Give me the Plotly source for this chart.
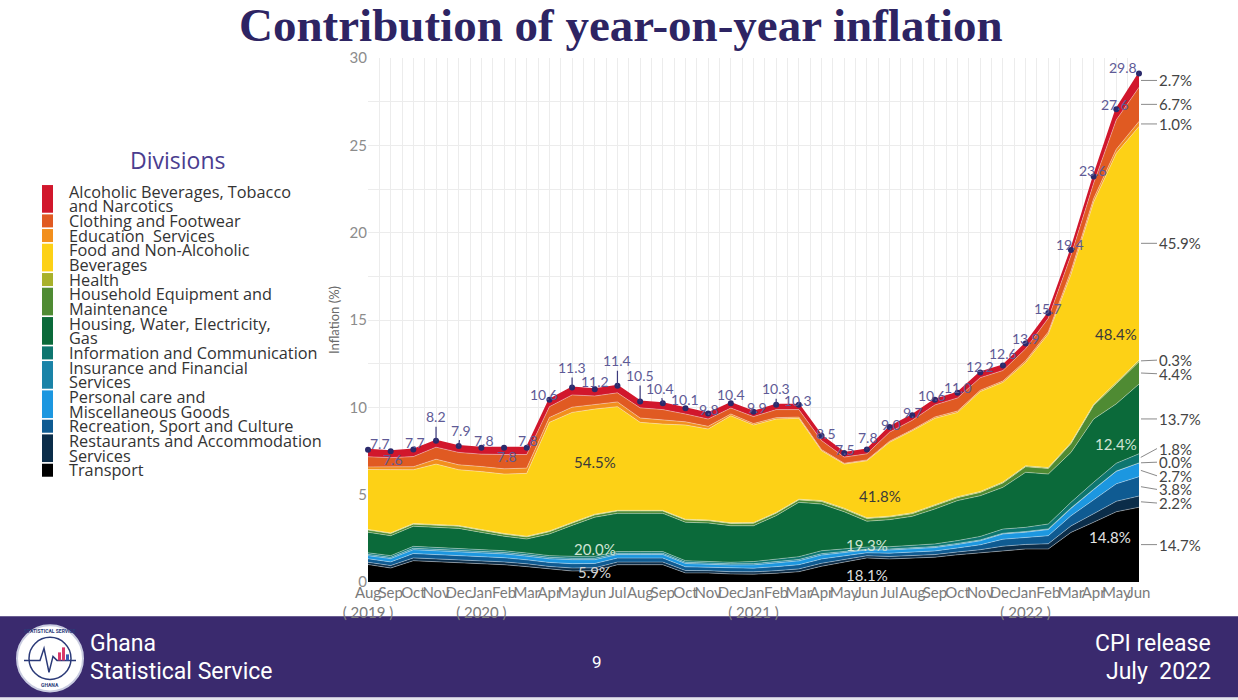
import plotly.graph_objects as go

# ---------------- data ----------------
tick_text = ["Aug<br>( 2019 )", "Sep", "Oct", "Nov", "Dec", "Jan<br>( 2020 )", "Feb", "Mar", "Apr", "May", "Jun", "Jul",
             "Aug", "Sep", "Oct", "Nov", "Dec", "Jan<br>( 2021 )", "Feb", "Mar", "Apr", "May", "Jun", "Jul",
             "Aug", "Sep", "Oct", "Nov", "Dec", "Jan<br>( 2022 )", "Feb", "Mar", "Apr", "May", "Jun"]

headline = [7.7, 7.6, 7.7, 8.2, 7.9, 7.8, 7.8, 7.8, 10.6, 11.3, 11.2, 11.4, 10.5, 10.4, 10.1, 9.8, 10.4,
            9.9, 10.3, 10.3, 8.5, 7.5, 7.8, 9.0, 9.7, 10.6, 11.0, 12.2, 12.6, 13.9, 15.7, 19.4, 23.6, 27.6, 29.8]

transport = [1.00, 0.80, 1.22, 1.16, 1.09, 1.03, 0.99, 0.88, 0.74, 0.63, 0.65, 0.99, 0.99, 0.99, 0.52, 0.52, 0.46,
             0.45, 0.50, 0.59, 0.90, 1.13, 1.38, 1.32, 1.36, 1.42, 1.56, 1.66, 1.79, 1.89, 1.89, 2.84, 3.42, 4.02, 4.28]
restaurants = [0.13, 0.14, 0.16, 0.16, 0.17, 0.17, 0.16, 0.16, 0.15, 0.17, 0.16, 0.15, 0.15, 0.15, 0.14, 0.13, 0.13,
               0.13, 0.15, 0.16, 0.17, 0.15, 0.12, 0.14, 0.14, 0.15, 0.16, 0.19, 0.26, 0.26, 0.30, 0.37, 0.49, 0.60, 0.64]
recreation = [0.20, 0.21, 0.25, 0.25, 0.25, 0.26, 0.24, 0.23, 0.23, 0.25, 0.25, 0.23, 0.23, 0.23, 0.21, 0.19, 0.20,
              0.21, 0.23, 0.24, 0.25, 0.21, 0.17, 0.19, 0.20, 0.21, 0.23, 0.28, 0.40, 0.40, 0.46, 0.58, 0.80, 1.00, 1.11]
personal_care = [0.18, 0.19, 0.22, 0.22, 0.23, 0.23, 0.22, 0.21, 0.21, 0.23, 0.22, 0.20, 0.20, 0.20, 0.19, 0.17, 0.18,
                 0.19, 0.21, 0.22, 0.22, 0.19, 0.16, 0.18, 0.18, 0.19, 0.20, 0.23, 0.30, 0.30, 0.35, 0.42, 0.58, 0.72, 0.79]
insurance = [0.07, 0.07, 0.08, 0.08, 0.08, 0.09, 0.08, 0.08, 0.08, 0.08, 0.08, 0.07, 0.07, 0.07, 0.07, 0.06, 0.07,
             0.07, 0.08, 0.08, 0.08, 0.07, 0.05, 0.06, 0.06, 0.06, 0.06, 0.05, 0.04, 0.04, 0.04, 0.03, 0.02, 0.01, 0.00]
information = [0.09, 0.10, 0.11, 0.11, 0.11, 0.11, 0.10, 0.10, 0.10, 0.11, 0.11, 0.10, 0.10, 0.10, 0.09, 0.09, 0.09,
               0.12, 0.15, 0.16, 0.17, 0.14, 0.12, 0.13, 0.14, 0.15, 0.16, 0.20, 0.24, 0.24, 0.28, 0.32, 0.40, 0.45, 0.52]
housing = [1.18, 1.14, 1.15, 1.13, 1.14, 0.95, 0.83, 0.80, 1.24, 1.77, 2.24, 2.19, 2.19, 2.19, 2.20, 2.22, 2.09,
           2.05, 2.48, 3.11, 2.67, 2.13, 1.48, 1.55, 1.68, 2.00, 2.29, 2.33, 2.39, 3.15, 2.86, 2.86, 3.62, 3.40, 3.99]
household = [0.12, 0.12, 0.12, 0.12, 0.12, 0.12, 0.12, 0.12, 0.13, 0.13, 0.13, 0.13, 0.13, 0.13, 0.13, 0.13, 0.13,
             0.14, 0.14, 0.14, 0.15, 0.15, 0.15, 0.15, 0.15, 0.17, 0.17, 0.19, 0.25, 0.32, 0.32, 0.50, 0.78, 1.15, 1.28]
health = [0.04, 0.04, 0.04, 0.04, 0.04, 0.04, 0.04, 0.04, 0.04, 0.04, 0.04, 0.04, 0.04, 0.04, 0.04, 0.04, 0.04,
          0.04, 0.04, 0.04, 0.05, 0.05, 0.05, 0.05, 0.05, 0.05, 0.05, 0.05, 0.05, 0.05, 0.05, 0.06, 0.07, 0.08, 0.09]
food = [3.43, 3.62, 3.08, 3.48, 3.20, 3.32, 3.40, 3.60, 6.22, 6.30, 6.02, 5.94, 5.04, 4.94, 5.40, 5.21, 6.13,
        5.59, 5.35, 4.63, 2.86, 2.53, 3.26, 4.23, 4.70, 4.97, 4.83, 5.72, 5.71, 5.92, 7.65, 9.63, 11.57, 13.12, 13.38]
education = [0.15, 0.16, 0.17, 0.28, 0.28, 0.29, 0.30, 0.30, 0.28, 0.30, 0.25, 0.27, 0.25, 0.25, 0.18, 0.15, 0.10,
             0.08, 0.08, 0.07, 0.06, 0.05, 0.05, 0.06, 0.06, 0.08, 0.08, 0.08, 0.08, 0.10, 0.12, 0.20, 0.20, 0.23, 0.29]
clothing = [0.58, 0.53, 0.58, 0.69, 0.71, 0.71, 0.82, 0.78, 0.62, 0.70, 0.50, 0.52, 0.58, 0.58, 0.45, 0.42, 0.34,
            0.40, 0.46, 0.43, 0.52, 0.35, 0.35, 0.52, 0.54, 0.69, 0.75, 0.72, 0.60, 0.68, 0.78, 0.90, 0.88, 1.68, 1.95]
alcoholic = [0.40, 0.37, 0.40, 0.36, 0.36, 0.36, 0.38, 0.38, 0.40, 0.42, 0.38, 0.40, 0.37, 0.37, 0.33, 0.32, 0.28,
             0.28, 0.28, 0.28, 0.27, 0.24, 0.24, 0.29, 0.29, 0.30, 0.30, 0.30, 0.29, 0.30, 0.30, 0.30, 0.38, 0.61, 0.79]

# legend names (line breaks as in the legend), stacking order bottom -> top
division_names = ["Transport", "Restaurants and Accommodation<br>Services", "Recreation, Sport and Culture",
                  "Personal care and<br>Miscellaneous Goods", "Insurance and Financial<br>Services",
                  "Information and Communication", "Housing, Water, Electricity,<br>Gas",
                  "Household Equipment and<br>Maintenance", "Health", "Food and Non-Alcoholic<br>Beverages",
                  "Education  Services", "Clothing and Footwear", "Alcoholic Beverages, Tobacco<br>and Narcotics"]
# June 2022 share of each division (same order)
june_share_text = ["14.7%", "2.2%", "3.8%", "2.7%", "0.0%", "1.8%", "13.7%", "4.4%", "0.3%", "45.9%", "1.0%", "6.7%", "2.7%"]
# shares written inside the areas: (month index, division index, text)
inner_labels = [(10, 9, "54.5%"), (10, 6, "20.0%"), (10, 0, "5.9%"),
                (22, 9, "41.8%"), (22, 6, "19.3%"), (22, 0, "18.1%"),
                (33, 9, "48.4%"), (33, 6, "12.4%"), (33, 0, "14.8%")]

# ---------------- styles ----------------
colors = ["#000000", "#0b2d49", "#0f5b92", "#1c97e0", "#1a83a7", "#0e766f", "#0b6a3a",
          "#4f8b33", "#a8b12b", "#fdd116", "#f28f1d", "#e05a22", "#d1172c"]
series = [transport, restaurants, recreation, personal_care, insurance, information, housing,
          household, health, food, education, clothing, alcoholic]
label_offsets = [(12, -6), (2, 8), (2, -7), (0, -24), (2, -16), (3, -7), (3, 9), (1, -7), (-5, -5), (0, -20),
                 (0, -8), (0, -25), (0, -26), (-3, -15), (0, -9), (1, -4), (0, -9), (3, -4), (0, -16), (-1, -4),
                 (4, -2), (1, -3), (1, -12), (1, -3), (1, -3), (-3, -4), (0, -5), (0, -6), (0, -12), (0, -5),
                 (0, -5), (-1, -5), (-1, -6), (-1, -5), (-16, -6)]
inner_style = {"54.5%": ("#3a3a3a", 0, 0), "20.0%": ("#cfe3d4", 0, -12), "5.9%": ("#d4d4d4", 0, 4),
               "41.8%": ("#3a3a3a", 13, -7), "19.3%": ("#cfe3d4", 0, -11), "18.1%": ("#dddddd", 0, -5),
               "48.4%": ("#3a3a3a", 0, -66), "12.4%": ("#cfe3d4", 0, -10), "14.8%": ("#e4e4e4", -6, 10)}

FONT = "Lato, 'Open Sans', sans-serif"
LEGFONT = "'Open Sans', Lato, sans-serif"
W, H = 1238, 700
PL, PR, PT, PB = 368, 1139, 58.3, 581.7
YMAX = 30
PXU = (PB - PT) / YMAX


def X(px):
    return (px - PL) / (PR - PL)


def Y(py):
    return (PB - py) / (PB - PT)


def paper_text(txt, px, py, size, color, family=FONT, xanchor="center", **kw):
    return dict(x=X(px), y=Y(py), xref="paper", yref="paper", text=txt, showarrow=False,
                xanchor=xanchor, yanchor="middle", font=dict(family=family, size=size, color=color), **kw)


n = len(headline)
xs = list(range(n))
totals = [sum(s[i] for s in series) for i in range(n)]

fig = go.Figure()
for name, vals, col in zip(division_names, series, colors):
    is_top = col == colors[-1]
    fig.add_trace(go.Scatter(
        x=xs, y=vals, stackgroup="one", mode="lines", name=name.replace("<br>", " "),
        fillcolor=col,
        line=dict(width=2 if is_top else 0.8, color=col if is_top else "rgba(255,255,255,0.45)"),
        showlegend=False, hoverinfo="skip"))

fig.add_trace(go.Scatter(x=xs, y=totals, mode="markers", cliponaxis=False,
                         marker=dict(size=6, color="#2b2a6b"), showlegend=False, hoverinfo="skip"))

ann = []
# headline value labels
for i in range(n):
    dx, dy = label_offsets[i]
    ann.append(dict(x=i, y=totals[i], xref="x", yref="y", text=f"{headline[i]:.1f}",
                    showarrow=True, arrowhead=0, arrowwidth=1.2, arrowcolor="#3c3a7c", standoff=0,
                    ax=dx, ay=dy, xanchor="center", yanchor="middle",
                    font=dict(family=FONT, size=14, color="#5e5a96")))


def bounds(i):
    b, lo = [], 0.0
    for s in series:
        b.append((lo, lo + s[i]))
        lo += s[i]
    return b


# inner share labels
for (i, k, txt) in inner_labels:
    lo, hi = bounds(i)[k]
    col, xsft, ysft = inner_style[txt]
    ann.append(dict(x=i, y=(lo + hi) / 2, xref="x", yref="y", text=txt, showarrow=False,
                    xanchor="center", yanchor="middle",
                    xshift=xsft, yshift=ysft, font=dict(family=FONT, size=15, color=col)))

# right-hand June 2022 shares with dodging
last = bounds(n - 1)
mids = [(lo + hi) / 2 for lo, hi in last]
pos = list(mids)
gap = 0.78
for _ in range(200):
    moved = False
    for k in range(len(pos) - 1):
        if pos[k + 1] - pos[k] < gap - 1e-6:
            d = (gap - (pos[k + 1] - pos[k])) / 2
            pos[k] -= d
            pos[k + 1] += d
            moved = True
    if not moved:
        break
for k, txt in enumerate(june_share_text):
    ann.append(dict(x=n - 1, y=mids[k], xref="x", yref="y", text=txt, showarrow=True, arrowhead=0,
                    arrowwidth=1, arrowcolor="#8a8a8a", standoff=2, ax=18, ay=-(pos[k] - mids[k]) * PXU,
                    xanchor="left", yanchor="middle", font=dict(family=FONT, size=15, color="#444444")))

# y axis title
ann.append(paper_text("Inflation (%)", 334, 320, 13, "#6a6a6a", textangle=-90))

# title
ann.append(paper_text("<b>Contribution of year-on-year inflation</b>", 621, 25, 47, "#2d2463",
                      family="'Liberation Serif', 'DejaVu Serif', serif"))

# manual legend
shapes = []
ann.append(paper_text("Divisions", 177, 160, 23, "#4a3d8f", family=LEGFONT))
LH = 14.65
line0 = 191.7
line_idx = 0
for name, col in list(zip(division_names, colors))[::-1]:
    parts = name.split("<br>")
    top = line0 + line_idx * LH - 6.5
    bot = line0 + (line_idx + len(parts) - 1) * LH + 6.5
    shapes.append(dict(type="rect", xref="paper", yref="paper", x0=X(42), x1=X(53), y0=Y(bot), y1=Y(top),
                       fillcolor=col, line=dict(width=0)))
    for j, p in enumerate(parts):
        ann.append(paper_text(p, 67, line0 + (line_idx + j) * LH, 16.3, "#333333",
                              family=LEGFONT, xanchor="left"))
    line_idx += len(parts)

# footer
shapes.append(dict(type="rect", xref="paper", yref="paper", x0=X(0), x1=X(W), y0=Y(697), y1=Y(616),
                   fillcolor="#3a2a6e", line=dict(width=0), layer="below"))
shapes.append(dict(type="rect", xref="paper", yref="paper", x0=X(0), x1=X(W), y0=Y(700), y1=Y(697),
                   fillcolor="#e3e2ec", line=dict(width=0), layer="below"))
# logo
shapes.append(dict(type="circle", xref="paper", yref="paper", x0=X(17), x1=X(83), y0=Y(691), y1=Y(625),
                   fillcolor="#ffffff", line=dict(color="#c9cce0", width=2)))
shapes.append(dict(type="circle", xref="paper", yref="paper", x0=X(29), x1=X(71), y0=Y(679), y1=Y(637),
                   fillcolor="#ffffff", line=dict(color="#2b3a78", width=1.5)))
ecg = [(24, 660), (40, 660), (44, 648), (49, 672), (53, 656), (57, 660), (76, 660)]
path = "M " + " L ".join(f"{X(a):.5f},{Y(b):.5f}" for a, b in ecg)
shapes.append(dict(type="path", xref="paper", yref="paper", path=path, line=dict(color="#2b3a78", width=1.5)))
for bx, bh, bc in [(58, 8, "#d8386b"), (62, 13, "#d8386b"), (66, 6, "#3b5bb5")]:
    shapes.append(dict(type="rect", xref="paper", yref="paper", x0=X(bx), x1=X(bx + 3), y0=Y(660),
                       y1=Y(660 - bh), fillcolor=bc, line=dict(width=0)))
NARROW = "'Liberation Sans Narrow', 'Roboto', sans-serif"
ann.append(paper_text("<b>STATISTICAL SERVICE</b>", 50, 631, 5, "#2b3a78", family=NARROW))
ann.append(paper_text("<b>GHANA</b>", 50, 685, 5, "#2b3a78", family=NARROW))

for txt, px, py, anchor in [("Ghana", 88, 643, "left"), ("Statistical Service", 88, 671, "left"),
                            ("CPI release", 1213, 643, "right"), ("July  2022", 1213, 671, "right")]:
    ann.append(paper_text(txt, px, py, 23, "#ffffff", family=NARROW, xanchor=anchor))
ann.append(paper_text("9", 597, 662, 17, "#ffffff", family=NARROW))

fig.update_layout(
    width=W, height=H, autosize=False,
    margin=dict(l=PL, r=W - PR, t=PT, b=H - PB, pad=0),
    paper_bgcolor="#ffffff", plot_bgcolor="#ffffff",
    annotations=ann, shapes=shapes,
    xaxis=dict(range=[0, n - 1], tickmode="array", tickvals=xs, ticktext=tick_text, tickangle=0,
               showgrid=True, gridcolor="#ececec", gridwidth=1, zeroline=False, showline=False, ticks="",
               tickfont=dict(family=FONT, size=15, color="#7a7a7a"),
               minor=dict(dtick=0.5, tick0=0, showgrid=True, gridcolor="#ececec", gridwidth=1)),
    yaxis=dict(range=[0, YMAX], dtick=5, showgrid=True, gridcolor="#ececec", gridwidth=1, zeroline=False,
               showline=False, ticks="", tickfont=dict(family=FONT, size=15, color="#8c8c8c"),
               minor=dict(dtick=2.5, showgrid=True, gridcolor="#ececec", gridwidth=1)),
    font=dict(family=FONT),
)

fig.write_html("out.html", config={"displayModeBar": False},
               post_script="document.body.style.margin='0';document.body.style.overflow='hidden';")
